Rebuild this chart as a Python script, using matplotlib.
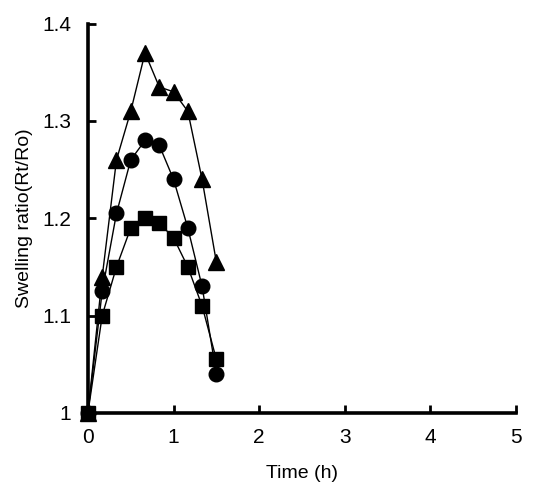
import numpy as np
import matplotlib
matplotlib.use("Agg")
import matplotlib.pyplot as plt

plt.rcParams['font.family'] = ['Liberation Sans', 'DejaVu Sans']

# time points (h), every 10 min
time_h = [0, 1/6, 1/3, 1/2, 2/3, 5/6, 1, 7/6, 4/3, 3/2]

# swelling ratio series
tri_vals = [1.0, 1.14, 1.26, 1.31, 1.37, 1.335, 1.33, 1.31, 1.24, 1.155]
circ_vals = [1.0, 1.125, 1.205, 1.26, 1.28, 1.275, 1.24, 1.19, 1.13, 1.04]
sq_vals = [1.0, 1.10, 1.15, 1.19, 1.20, 1.195, 1.18, 1.15, 1.11, 1.055]

x_ticks = [0, 1, 2, 3, 4, 5]
y_ticks = [1.0, 1.1, 1.2, 1.3, 1.4]
y_tick_labels = ["1", "1.1", "1.2", "1.3", "1.4"]

fig = plt.figure(figsize=(5.33, 4.84), dpi=100)
ax = fig.add_axes([0.165, 0.147, 0.803, 0.804])

ax.plot(time_h, tri_vals, color='black', lw=1.0, marker='^', ms=11, clip_on=False, zorder=3)
ax.plot(time_h, circ_vals, color='black', lw=1.0, marker='o', ms=10.5, clip_on=False, zorder=3)
ax.plot(time_h, sq_vals, color='black', lw=1.0, marker='s', ms=9.5, clip_on=False, zorder=4)

ax.set_xlim(0, 5)
ax.set_ylim(1.0, 1.4)
ax.set_xticks(x_ticks)
ax.set_yticks(y_ticks)
ax.set_yticklabels(y_tick_labels)

for s in ['top', 'right']:
    ax.spines[s].set_visible(False)
for s in ['left', 'bottom']:
    ax.spines[s].set_linewidth(2.6)

ax.tick_params(axis='both', direction='in', length=6, width=2, labelsize=15, pad=11)
ax.tick_params(axis='y', pad=12)

ax.set_xlabel("Time (h)", fontsize=14, labelpad=13)
ax.set_ylabel("Swelling ratio(Rt/Ro)", fontsize=14, labelpad=7)

fig.savefig("out.png", dpi=100)
